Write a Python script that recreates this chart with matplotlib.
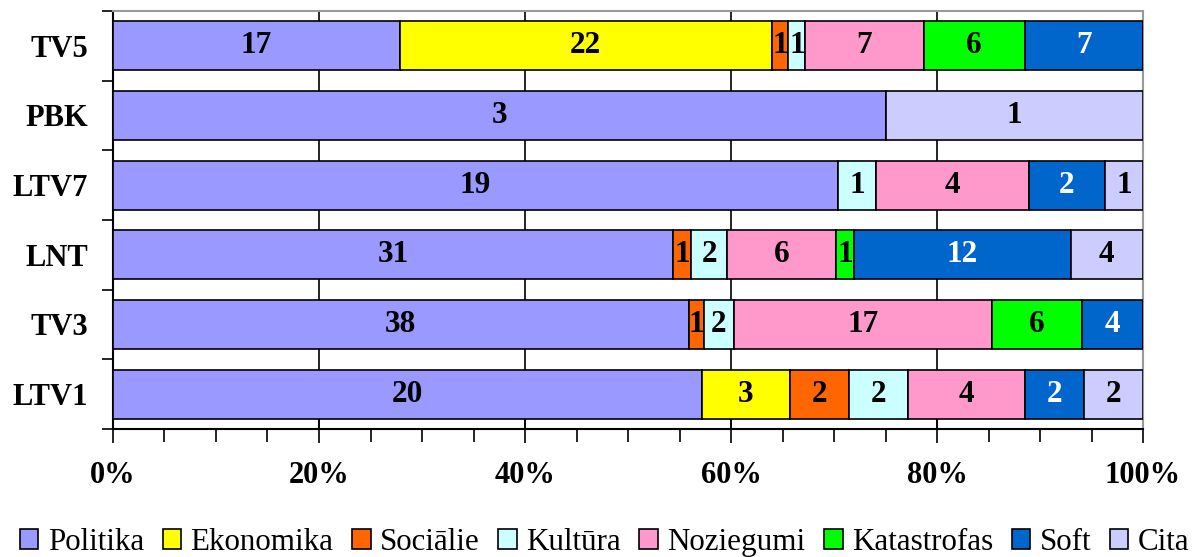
import numpy as np
import matplotlib
matplotlib.use("Agg")
import matplotlib.pyplot as plt
from matplotlib.ticker import MultipleLocator, PercentFormatter

plt.rcParams['font.family'] = ['Liberation Serif', 'DejaVu Serif']

# channels, bottom to top
channels = ["LTV1", "TV3", "LNT", "LTV7", "PBK", "TV5"]
topics = ["Politika", "Ekonomika", "Sociālie", "Kultūra", "Noziegumi",
          "Katastrofas", "Soft", "Cita"]
colors = ["#9999FF", "#FFFF00", "#FF6600", "#CCFFFF", "#FF99CC",
          "#00FF00", "#0066CC", "#CCCCFF"]

# counts per topic, one value per channel (LTV1, TV3, LNT, LTV7, PBK, TV5)
politika    = [20, 38, 31, 19, 3, 17]
ekonomika   = [3, 0, 0, 0, 0, 22]
sociaalie   = [2, 1, 1, 0, 0, 1]
kultura     = [2, 2, 2, 1, 0, 1]
noziegumi   = [4, 17, 6, 4, 0, 7]
katastrofas = [0, 6, 1, 0, 0, 6]
soft        = [2, 4, 12, 2, 0, 7]
cita        = [2, 0, 4, 1, 1, 0]

counts = np.array([politika, ekonomika, sociaalie, kultura, noziegumi,
                   katastrofas, soft, cita], dtype=float)
totals = counts.sum(axis=0)
shares = counts / totals * 100

fig = plt.figure(figsize=(11.97, 5.57), dpi=100)
ax = fig.add_axes([0.0944, 0.2298, 0.8605, 0.7505])

y = np.arange(len(channels))
left = np.zeros(len(channels))
for i, topic in enumerate(topics):
    bars = ax.barh(y, shares[i], left=left, height=0.7, color=colors[i],
                   edgecolor="black", linewidth=1.2, label=topic, zorder=3)
    txt_color = "white" if topic == "Soft" else "black"
    for j, b in enumerate(bars):
        if counts[i, j] > 0:
            ax.text(left[j] + shares[i, j] / 2, y[j], "%d" % counts[i, j],
                    ha="center", va="center", fontsize=22.5, fontweight="bold",
                    color=txt_color, zorder=4)
    left += shares[i]

ax.set_xlim(0, 100)
ax.set_ylim(-0.5, len(channels) - 0.5)

ax.xaxis.set_major_locator(MultipleLocator(20))
ax.xaxis.set_minor_locator(MultipleLocator(5))
ax.xaxis.set_major_formatter(PercentFormatter(decimals=0))
ax.grid(axis="x", which="major", color="black", linewidth=1.2, zorder=1)
ax.tick_params(axis="x", which="major", direction="inout", length=20,
               width=1.2, pad=13, labelsize=22)
ax.tick_params(axis="x", which="minor", direction="out", length=9, width=1.2)
for lab in ax.get_xticklabels():
    lab.set_fontweight("bold")

ax.set_yticks(y)
ax.set_yticklabels(channels, fontsize=22, fontweight="bold")
ax.set_yticks(np.arange(-0.5, len(channels)), minor=True)
ax.tick_params(axis="y", which="major", length=0, pad=18)
ax.tick_params(axis="y", which="minor", direction="out", length=8, width=1.2)

ax.spines["top"].set_color("#999999")
ax.spines["right"].set_color("#999999")
ax.spines["top"].set_linewidth(1.5)
ax.spines["right"].set_linewidth(1.5)
ax.spines["left"].set_linewidth(1.5)
ax.spines["bottom"].set_linewidth(1.5)

fig.legend(loc="lower center", bbox_to_anchor=(0.505, -0.033), ncol=8,
           frameon=False, fontsize=22.3, handlelength=0.6, handleheight=0.6,
           handletextpad=0.3, columnspacing=0.6, borderaxespad=0.2)

fig.savefig("out.png", dpi=100)
